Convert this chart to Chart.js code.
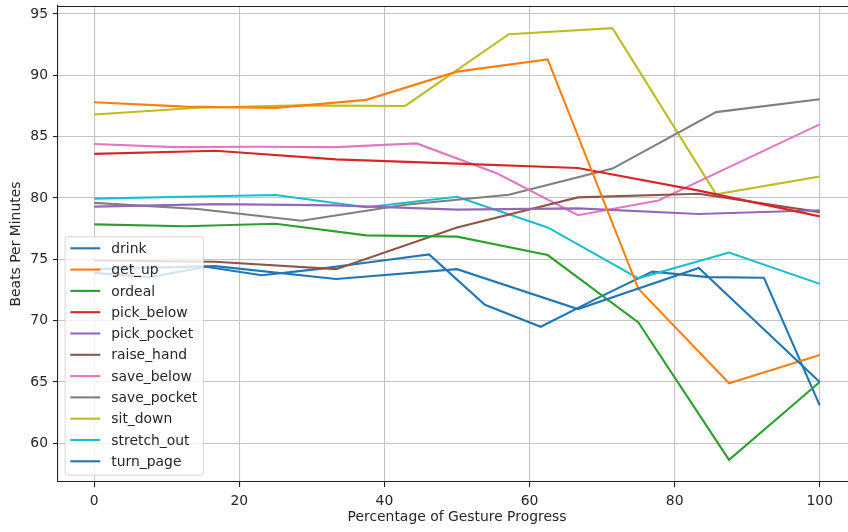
<!DOCTYPE html>
<html>
<head>
<meta charset="utf-8">
<script src="https://cdn.jsdelivr.net/npm/chart.js@4/dist/chart.umd.min.js"></script>
<style>
html,body{margin:0;padding:0;background:#fff;overflow:hidden}
</style>
</head>
<body>
<canvas id="chart" width="856" height="532"></canvas>
<script>
'use strict';

/* ── data: heart rate per gesture ── */
const gestures=['drink','get_up','ordeal','pick_below','pick_pocket','raise_hand',
  'save_below','save_pocket','sit_down','stretch_out','turn_page'];

const drink      =[74.2,74.45,73.4,74.2,70.95,74.3,65.0];
const get_up     =[87.8,87.45,87.35,88.0,90.3,91.3,72.6,64.9,67.2];
const ordeal     =[77.85,77.7,77.9,76.95,76.85,75.35,69.85,58.65,65.0];
const pick_below =[83.6,83.85,83.15,82.8,82.45,80.6,78.5];
const pick_pocket=[79.3,79.5,79.4,79.05,79.15,78.7,79.0];
const raise_hand =[74.9,74.8,74.2,77.6,80.05,80.35,78.85];
const save_below =[84.4,84.15,84.18,84.15,84.45,82.0,78.6,79.8,82.9,86.0];
const save_pocket=[79.6,79.1,78.15,79.45,80.27,82.4,87.0,88.05];
const sit_down   =[86.8,87.35,87.55,87.5,93.35,93.85,80.3,81.75];
const stretch_out=[79.95,80.1,80.25,79.25,80.1,77.6,73.45,75.55,73.0];
const turn_page  =[73.9,73.55,74.4,73.7,74.2,74.8,75.4,71.3,69.5,71.8,74.0,73.55,73.5,63.1];

const xTicks=[0,20,40,60,80,100];
const yTicks=[60,65,70,75,80,85,90,95];

const series=[drink,get_up,ordeal,pick_below,pick_pocket,raise_hand,
  save_below,save_pocket,sit_down,stretch_out,turn_page];

// matplotlib tab10, wraps round for the 11th line
const palette=['#1f77b4','#ff7f0e','#2ca02c','#d62728','#9467bd','#8c564b',
  '#e377c2','#7f7f7f','#bcbd22','#17becf','#1f77b4'];

const FONT='"DejaVu Sans", sans-serif';
const FS=13.9;
const INK='#262626';

/* ── each gesture is sampled evenly over 0..100 % progress ── */
const datasets=gestures.map((g,i)=>{
  const v=series[i];
  return{
    label:g,
    data:v.map((y,k)=>({x:k*100/(v.length-1),y})),
    borderColor:palette[i],
    backgroundColor:palette[i],
    borderWidth:2.1,
    pointRadius:0,
    tension:0,
    fill:false
  };
});

/* ── legend drawn inside the plot, lower left, like matplotlib "best" ── */
const innerLegend={
  id:'innerLegend',
  afterDraw(chart){
    const {ctx,chartArea:a}=chart;
    const ds=chart.data.datasets;
    ctx.save();
    ctx.font=FS+'px '+FONT;
    const tw=Math.max(...ds.map(d=>ctx.measureText(d.label).width));
    const rowH=21.3,pad=5.7,handle=30,gap=11;
    const bw=pad+handle+gap+tw+pad;
    const bh=238.3;
    const bx=a.left+6.6, by=a.bottom-7.4-bh;
    ctx.beginPath();
    ctx.roundRect(bx+0.5,by+0.5,bw,bh,3);
    ctx.fillStyle='rgba(255,255,255,0.8)';
    ctx.fill();
    ctx.strokeStyle='rgba(204,204,204,0.8)';
    ctx.lineWidth=1;
    ctx.stroke();
    ctx.textBaseline='middle';
    ctx.textAlign='left';
    ds.forEach((d,i)=>{
      const cy=by+12+i*rowH;
      ctx.beginPath();
      ctx.moveTo(bx+pad,cy);
      ctx.lineTo(bx+pad+handle,cy);
      ctx.strokeStyle=d.borderColor;
      ctx.lineWidth=2.1;
      ctx.stroke();
      ctx.fillStyle=INK;
      ctx.fillText(d.label,bx+pad+handle+gap,cy+1);
    });
    ctx.restore();
  }
};

/* ── top spine (left/bottom come from the axis borders) ── */
const topSpine={
  id:'topSpine',
  afterDatasetsDraw(chart){
    const {ctx,chartArea:a}=chart;
    ctx.save();
    ctx.strokeStyle='#222';
    ctx.lineWidth=1.1;
    ctx.beginPath();
    ctx.moveTo(a.left,a.top+0.5);
    ctx.lineTo(a.right,a.top+0.5);
    ctx.stroke();
    ctx.restore();
  }
};

Chart.defaults.font.family=FONT;
Chart.defaults.font.size=FS;
Chart.defaults.color=INK;

new Chart(document.getElementById('chart'),{
  type:'line',
  data:{datasets},
  plugins:[innerLegend,topSpine],
  options:{
    responsive:false,
    animation:false,
    events:[],
    layout:{padding:{top:6,right:0,left:0,bottom:0}},
    plugins:{legend:{display:false},tooltip:{enabled:false}},
    scales:{
      x:{
        type:'linear',min:-5,max:105,
        afterBuildTicks(s){s.ticks=xTicks.map(v=>({value:v}));},
        afterFit(s){s.height=50;s.paddingLeft=0;s.paddingRight=0;},
        grid:{color:'#c4c4c4',lineWidth:1.1,tickColor:'#222',tickLength:5},
        border:{display:true,color:'#222',width:1.1},
        ticks:{padding:6,maxRotation:0,autoSkip:false,color:INK},
        title:{display:true,text:'Percentage of Gesture Progress',color:INK,
          padding:{top:0,bottom:6}}
      },
      y:{
        type:'linear',min:56.85,max:95.65,
        afterBuildTicks(s){s.ticks=yTicks.map(v=>({value:v}));},
        afterFit(s){s.width=58;s.paddingTop=0;s.paddingBottom=0;},
        grid:{color:'#c4c4c4',lineWidth:1.1,tickColor:'#222',tickLength:5},
        border:{display:true,color:'#222',width:1.1},
        ticks:{padding:5,autoSkip:false,color:INK},
        title:{display:true,text:'Beats Per Minutes',color:INK,
          padding:{top:8.5,bottom:0}}
      }
    }
  }
});
</script>
</body>
</html>
